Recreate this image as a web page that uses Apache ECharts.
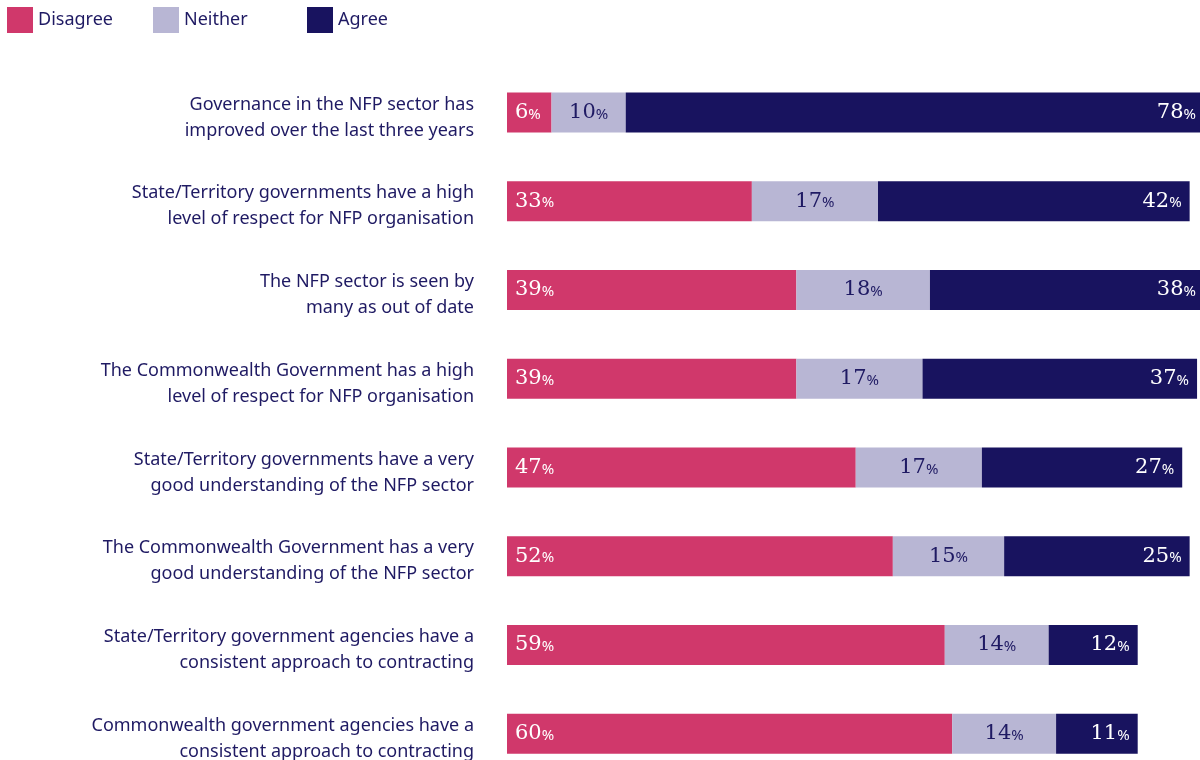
<!DOCTYPE html>
<html>
<head>
<meta charset="utf-8">
<style>
  html, body { margin: 0; padding: 0; background: #ffffff; }
  #chart { width: 1200px; height: 760px; }
</style>
<script src="https://cdn.jsdelivr.net/npm/echarts@6/dist/echarts.min.js"></script>
</head>
<body>
<div id="chart"></div>
<script>
// Survey statements, top to bottom
const statements = [
  'Governance in the NFP sector has\nimproved over the last three years',
  'State/Territory governments have a high\nlevel of respect for NFP organisation',
  'The NFP sector is seen by\nmany as out of date',
  'The Commonwealth Government has a high\nlevel of respect for NFP organisation',
  'State/Territory governments have a very\ngood understanding of the NFP sector',
  'The Commonwealth Government has a very\ngood understanding of the NFP sector',
  'State/Territory government agencies have a\nconsistent approach to contracting',
  'Commonwealth government agencies have a\nconsistent approach to contracting'
];

// Share of respondents (%)
const disagree = [6, 33, 39, 39, 47, 52, 59, 60];
const neither  = [10, 17, 18, 17, 17, 15, 14, 14];
const agree    = [78, 42, 38, 37, 27, 25, 12, 11];

const seriesNames = ['Disagree', 'Neither', 'Agree'];

const PINK = '#d0386b';
const LAVENDER = '#b8b6d4';
const NAVY = '#18135f';
const TEXT = '#1f1a63';

function pctLabel(color, position, distance) {
  return {
    show: true,
    position: position,
    distance: distance,
    formatter: p => '{n|' + p.value + '}{p|%}',
    rich: {
      n: { fontFamily: 'DejaVu Serif', fontSize: 21, color: color },
      p: { fontFamily: 'Noto Sans', fontSize: 15, color: color, padding: [4, 0, 0, 0] }
    }
  };
}

const chart = echarts.init(document.getElementById('chart'), null, { renderer: 'canvas' });

function legendAt(name, left) {
  return {
    data: [name],
    left: left,
    top: 7,
    padding: 0,
    itemWidth: 26,
    itemHeight: 26,
    itemGap: 0,
    selectedMode: false,
    icon: 'rect',
    textStyle: { fontFamily: 'Noto Sans', fontSize: 18, color: TEXT }
  };
}

// keep value labels of bars that run off the right edge inside the canvas
function keepInside(params) {
  const r = params.labelRect;
  const limit = chart.getWidth() - 4;
  if (r.x + r.width > limit) {
    return { x: limit - r.width, y: r.y, align: 'left', verticalAlign: 'top' };
  }
  return {};
}

chart.setOption({
  animation: false,
  backgroundColor: '#ffffff',
  legend: [legendAt('Disagree', 7), legendAt('Neither', 153), legendAt('Agree', 307)],
  // the 0–100% scale runs past the right edge, so the plot area may exceed the canvas
  grid: { left: 507, top: 68, width: 742, height: 710, containLabel: false, outerBoundsMode: 'none' },
  xAxis: {
    type: 'value',
    min: 0,
    max: 100,
    show: false
  },
  yAxis: {
    type: 'category',
    data: statements,
    inverse: true,
    axisLine: { show: false },
    axisTick: { show: false },
    splitLine: { show: false },
    axisLabel: {
      margin: 33,
      fontFamily: 'Noto Sans',
      fontSize: 18,
      lineHeight: 26,
      color: TEXT,
      align: 'right',
      // a thin spacer line on top nudges the two-line statement slightly below the bar centre
      formatter: v => '{s| }\n' + v.split('\n').map(l => '{t|' + l + '}').join('\n'),
      rich: {
        s: { fontSize: 2, lineHeight: 10, height: 10 },
        t: { fontFamily: 'Noto Sans', fontSize: 18, lineHeight: 26, color: TEXT }
      }
    }
  },
  series: [
    {
      name: seriesNames[0], type: 'bar', stack: 'total', barWidth: 40,
      itemStyle: { color: PINK },
      label: pctLabel('#ffffff', 'insideLeft', 8),
      data: disagree
    },
    {
      name: seriesNames[1], type: 'bar', stack: 'total', barWidth: 40,
      itemStyle: { color: LAVENDER },
      label: pctLabel(TEXT, 'inside', 0),
      data: neither
    },
    {
      name: seriesNames[2], type: 'bar', stack: 'total', barWidth: 40,
      itemStyle: { color: NAVY },
      label: pctLabel('#ffffff', 'insideRight', 8),
      labelLayout: keepInside,
      data: agree
    }
  ]
});
</script>
</body>
</html>
